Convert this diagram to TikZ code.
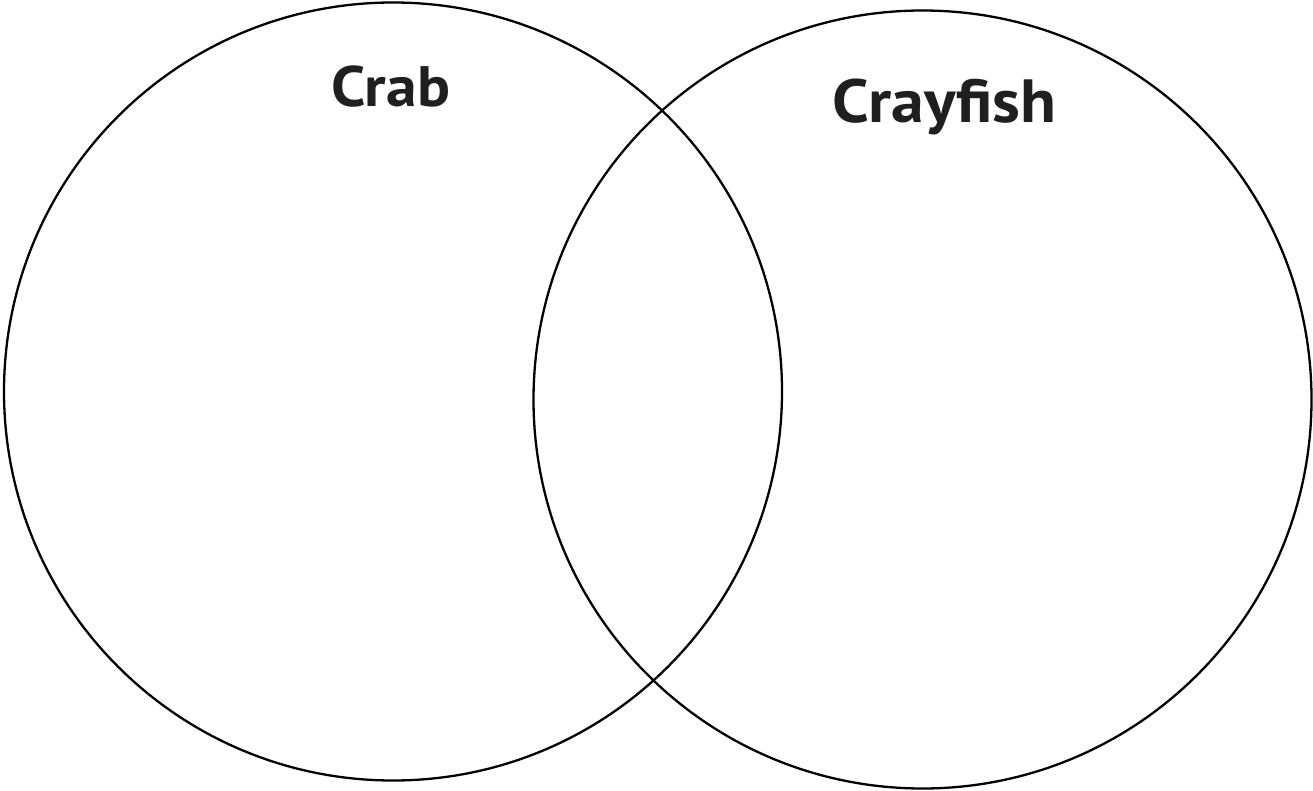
\documentclass[tikz,border=0pt]{standalone}
\usepackage{fontspec}
\usepackage{graphicx}
\setmainfont{PT Sans}
\def\VennLW{2.3pt}
\def\VennSize{778pt}
\newcommand{\VennWide}[1]{\scalebox{1.08}[1]{#1}}
\newcommand{\VennStyles}{%
  \tikzset{
    vennset/.style={circle, draw=black, line width=\VennLW,
      minimum size=\VennSize, inner sep=0pt, fill=none},
    vennlabel/.style={inner sep=0pt, anchor=base, text=black!88,
      font=\fontsize{57}{66}\selectfont\bfseries},
    vennlabelBig/.style={vennlabel,
      font=\fontsize{61}{70}\selectfont\bfseries},
  }%
}

\begin{document}
\begin{tikzpicture}[x=1pt, y=-1pt]
    \VennStyles
    \useasboundingbox (0,0) rectangle (1313,791);
    \node[vennset] (crab) at (393,391.5) {};
    \node[vennset] (crayfish) at (922.5,399.5) {};
    \node[vennlabel] (crablabel) at (390.5,107) {\VennWide{Crab}};
    \node[vennlabelBig] (crayfishlabel) at (944.5,123) {\VennWide{Crayfish}};
  \end{tikzpicture}
\end{document}
